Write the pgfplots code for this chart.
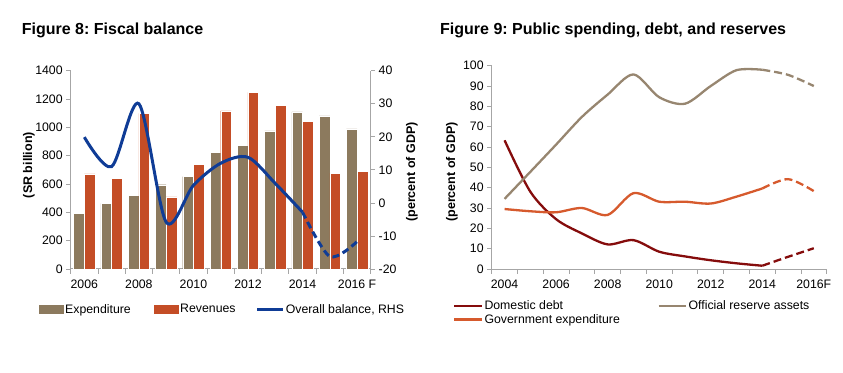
\documentclass[border=0pt]{standalone}
\usepackage{pgfplots}
\pgfplotsset{compat=1.18}
\usepackage{fontspec}
\setmainfont{Liberation Sans}
\frenchspacing
\definecolor{expcol}{HTML}{8C7A5E}
\definecolor{revcol}{HTML}{C44D26}
\definecolor{balcol}{HTML}{0F3C96}
\definecolor{debtcol}{HTML}{850C0C}
\definecolor{govcol}{HTML}{D65A2D}
\definecolor{rescol}{HTML}{978670}
\definecolor{axcol}{HTML}{A6A6A6}
\pgfplotsset{
  base/.style={
    scale only axis,
    axis line style={axcol, line width=1pt},
    tick style={axcol, line width=0.8pt},
    tick align=outside,
    major tick length=4.5pt,
    ticklabel style={font=\fontsize{12.3}{14}\selectfont},
    xticklabel style={yshift=-7.6pt},
    /pgf/number format/assume math mode=true,
    /pgf/number format/1000 sep={},
    label style={font=\bfseries\fontsize{12.5}{14}\selectfont},
    clip=false,
    legend cell align=left,
  }
}
\begin{document}
\begin{tikzpicture}
\path (0pt,0pt) rectangle (843pt,372pt);
\node[anchor=base west, font=\bfseries\fontsize{16}{18}\selectfont, inner sep=0pt] at (21.7pt,337pt) {Figure 8: Fiscal balance};
\node[anchor=base west, font=\bfseries\fontsize{16}{18}\selectfont, inner sep=0pt] at (440pt,337pt) {Figure 9: Public spending, debt, and reserves};

% ---------- Figure 8: bars ----------
\begin{axis}[base,
  at={(70.7pt,103pt)}, anchor=south west,
  width=300pt, height=198.3pt,
  xmin=-0.5, xmax=10.5, ymin=0, ymax=1400,
  axis x line*=bottom, axis y line*=left,
  ytick={0,200,...,1400},
  xtick={-0.5,0.5,...,10.5}, xticklabels={},
  extra x ticks={0,2,4,6,8,10},
  extra x tick labels={2006,2008,2010,2012,2014,2016 F},
  extra x tick style={major tick length=0pt},
  ylabel={(SR billion)},
  ylabel style={at={(axis description cs:-0.139,0.524)}, anchor=center},
  ybar=0pt, bar width=10.7pt,
]
\addplot[fill=expcol, draw=white, line width=0.4pt] coordinates {(0,391) (1,464) (2,518) (3,595) (4,652) (5,824) (6,871) (7,975) (8,1109) (9,1081) (10,989)};
\addplot[fill=revcol, draw=white, line width=0.4pt] coordinates {(0,671) (1,641) (2,1099) (3,509) (4,739) (5,1116) (6,1247) (7,1155) (8,1043) (9,676) (10,688)};
\end{axis}

% ---------- Figure 8: balance (RHS) ----------
\begin{axis}[base,
  at={(70.7pt,103pt)}, anchor=south west,
  width=300pt, height=198.3pt,
  xmin=-0.5, xmax=10.5, ymin=-20, ymax=40,
  axis y line*=right, axis x line=none,
  ytick={-20,-10,...,40},
  ylabel={(percent of GDP)},
  ylabel style={at={(axis description cs:1.137,0.489)}, anchor=center, rotate=0},
  legend style={at={(axis description cs:-0.1047,-0.172)}, anchor=north west, draw=none, fill=none,
    inner sep=0pt, outer sep=0pt, legend columns=3, font=\fontsize{12.3}{14}\selectfont,
    /tikz/column 2/.style={column sep=22pt}, /tikz/column 4/.style={column sep=18.5pt},
    nodes={inner xsep=1.5pt, inner ysep=1pt}},
  legend image code/.code={\draw[#1] (0pt,0pt) -- (25.7pt,0pt);},
]
\addlegendimage{legend image code/.code={\fill[expcol] (0pt,-3.8pt) rectangle (24pt,3.8pt);}}
\addlegendentry{Expenditure}
\addlegendimage{legend image code/.code={\fill[revcol] (0pt,-3.8pt) rectangle (24pt,3.8pt);}}
\addlegendentry{Revenues}
\addplot[balcol, line width=3pt, smooth] coordinates {(0,19.9) (1,11) (2,30) (3,-5.8) (4,5.3) (5,12) (6,13.8) (7,5.9) (8,-2.8)};
\addlegendentry{Overall balance, RHS}
\addplot[balcol, line width=3pt, smooth, dash pattern=on 7pt off 4pt, forget plot] coordinates {(8,-2.8) (9,-16.2) (10,-11.7)};
\end{axis}

% ---------- Figure 9 ----------
\begin{axis}[base,
  at={(491.7pt,103pt)}, anchor=south west,
  width=335pt, height=203.3pt,
  xmin=2003.5, xmax=2016.5, ymin=0, ymax=100,
  axis x line*=bottom, axis y line*=left,
  ytick={0,10,...,100},
  xtick={2003.5,2004.5,2005.5,2006.5,2007.5,2008.5,2009.5,2010.5,2011.5,2012.5,2013.5,2014.5,2015.5,2016.5}, xticklabels={},
  extra x ticks={2004,2006,2008,2010,2012,2014,2016},
  extra x tick labels={2004,2006,2008,2010,2012,2014,2016F},
  extra x tick style={major tick length=0pt},
  ylabel={(percent of GDP)},
  ylabel style={at={(axis description cs:-0.119,0.477)}, anchor=center},
  legend style={at={(axis description cs:-0.1146,-0.150)}, anchor=north west, draw=none, fill=none,
    inner sep=0pt, outer sep=0pt, legend columns=2, font=\fontsize{12.3}{14}\selectfont,
    /tikz/column 2/.style={column sep=36pt}, nodes={inner xsep=1.5pt, inner ysep=1.5pt}},
  legend image code/.code={\draw[#1] (0pt,0pt) -- (27.4pt,0pt);},
]
\addplot[debtcol, line width=2.3pt, smooth] coordinates {(2004,63.3) (2005,38) (2006,24.5) (2007,17.5) (2008,12.1) (2009,14.2) (2010,8.5) (2011,6.2) (2012,4.3) (2013,2.8) (2014,1.6)};
\addlegendentry{Domestic debt}
\addplot[rescol, line width=2.3pt, smooth] coordinates {(2004,34.5) (2005,47.8) (2006,61.2) (2007,74.8) (2008,85.8) (2009,95.7) (2010,84.5) (2011,81.3) (2012,90) (2013,97.8) (2014,98)};
\addlegendentry{Official reserve assets}
\addplot[govcol, line width=2.3pt, smooth] coordinates {(2004,29.5) (2005,28.4) (2006,27.9) (2007,30) (2008,26.6) (2009,37.3) (2010,33.1) (2011,33.1) (2012,32.2) (2013,35.6) (2014,39.6)};
\addlegendentry{Government expenditure}
\addplot[debtcol, line width=2.3pt, smooth, dash pattern=on 8pt off 4pt, forget plot] coordinates {(2014,1.6) (2015,6) (2016,10.2)};
\addplot[rescol, line width=2.3pt, smooth, dash pattern=on 8pt off 4pt, forget plot] coordinates {(2014,98) (2015,95.5) (2016,90)};
\addplot[govcol, line width=2.3pt, smooth, dash pattern=on 8pt off 4pt, forget plot] coordinates {(2014,39.6) (2015,44.2) (2016,38.3)};
\end{axis}
\end{tikzpicture}
\end{document}
